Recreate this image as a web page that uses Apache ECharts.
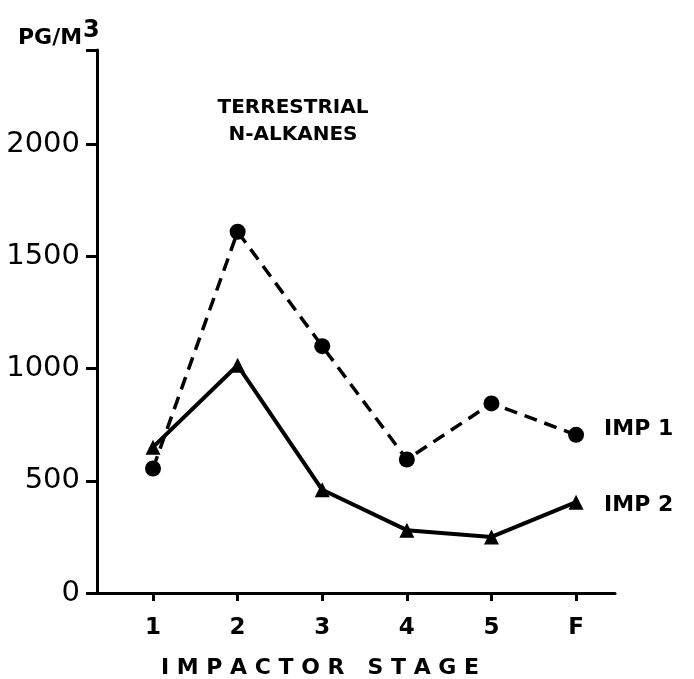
<!DOCTYPE html>
<html>
<head>
<meta charset="utf-8">
<script src="https://cdn.jsdelivr.net/npm/echarts@6/dist/echarts.min.js"></script>
<style>
html,body{margin:0;padding:0;background:#fff;}
#chart{width:694px;height:679px;}
</style>
</head>
<body>
<div id="chart"></div>
<script>
// impactor stages along the bottom
var stages = ['1', '2', '3', '4', '5', 'F'];
// pg/m3
var imp1 = [555, 1610, 1100, 595, 845, 705];
var imp2 = [650, 1015, 460, 280, 250, 405];
var yLabels = [0, 500, 1000, 1500, 2000];
var yTop = 2420;

function toPoints(vals){
	return vals.map(function(v, i){ return [i + 1, v]; });
}
var stagePos = stages.map(function(s, i){ return i + 1; });

var font = 'DejaVu Sans';
var chart = echarts.init(document.getElementById('chart'));
chart.setOption({
	backgroundColor: '#fff',
	animation: false,
	title: [{
		text: 'TERRESTRIAL\nN-ALKANES',
		left: 288,
		top: 89,
		textAlign: 'center',
		textStyle: {fontFamily: font, fontSize: 20, fontWeight: 'bold', color: '#000', lineHeight: 27}
	}, {
		text: '{a|PG/M}{b|3}',
		left: 13,
		top: 14,
		textStyle: {
			rich: {
				a: {fontFamily: font, fontSize: 22, fontWeight: 'bold', color: '#000'},
				b: {fontFamily: font, fontSize: 24, color: '#000', padding: [0, 0, 14, 1]}
			}
		}
	}],
	grid: {left: 97, right: 79, top: 50, bottom: 86, outerBoundsMode: 'none', containLabel: false},
	xAxis: {
		type: 'value',
		min: 0.338,
		max: 6.46,
		name: 'I M P A C T O R   S T A G E',
		nameLocation: 'middle',
		nameGap: 64,
		nameTextStyle: {fontFamily: font, fontSize: 22, fontWeight: 'bold', color: '#000', padding: [0, 72, 0, 0]},
		splitLine: {show: false},
		axisLine: {lineStyle: {color: '#000', width: 3}},
		axisTick: {customValues: stagePos, length: 8, lineStyle: {color: '#000', width: 3}},
		axisLabel: {
			customValues: stagePos,
			margin: 24,
			fontFamily: font, fontSize: 23, fontWeight: 'bold', color: '#000',
			formatter: function(v){ return stages[Math.round(v) - 1]; }
		}
	},
	yAxis: {
		type: 'value',
		min: 0,
		max: yTop,
		splitLine: {show: false},
		axisLine: {show: true, lineStyle: {color: '#000', width: 3}},
		axisTick: {customValues: yLabels.concat([yTop]), length: 11, lineStyle: {color: '#000', width: 3}},
		axisLabel: {customValues: yLabels, margin: 17, fontFamily: font, fontSize: 29, color: '#000',
			formatter: function(v){ return String(v); }}
	},
	series: [{
		name: 'IMP 1',
		type: 'line',
		data: toPoints(imp1),
		symbol: 'circle',
		symbolSize: 16,
		itemStyle: {color: '#000'},
		lineStyle: {color: '#000', width: 3.5, type: [13, 8]},
		endLabel: {show: true, formatter: '{a}', distance: 28, offset: [0, -6],
			fontFamily: font, fontSize: 22, fontWeight: 'bold', color: '#000'}
	}, {
		name: 'IMP 2',
		type: 'line',
		data: toPoints(imp2),
		symbol: 'triangle',
		symbolSize: 15,
		itemStyle: {color: '#000'},
		lineStyle: {color: '#000', width: 4},
		endLabel: {show: true, formatter: '{a}', distance: 28, offset: [0, 3],
			fontFamily: font, fontSize: 22, fontWeight: 'bold', color: '#000'}
	}]
});
</script>
</body>
</html>
